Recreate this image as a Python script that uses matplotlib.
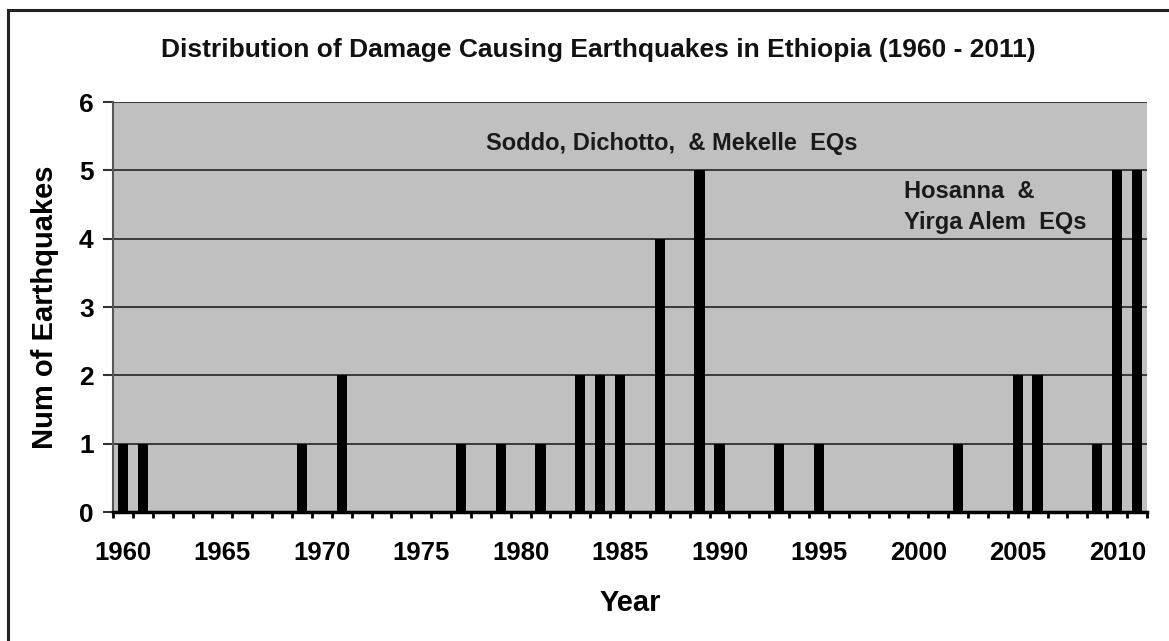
import numpy as np
import matplotlib.pyplot as plt
from matplotlib.lines import Line2D

plt.rcParams['font.family'] = ['Liberation Sans', 'DejaVu Sans']
plt.rcParams['font.weight'] = 'bold'

# damage causing earthquakes per year (years with no event are left out)
years = [1960, 1961, 1969, 1971, 1977, 1979, 1981, 1983, 1984, 1985, 1987,
         1989, 1990, 1993, 1995, 2002, 2005, 2006, 2009, 2010, 2011]
counts = [1, 1, 1, 2, 1, 1, 1, 2, 2, 2, 4,
          5, 1, 1, 1, 1, 2, 2, 1, 5, 5]
label_years = [1960, 1965, 1970, 1975, 1980, 1985, 1990, 1995, 2000, 2005, 2010]
y_ticks = [0, 1, 2, 3, 4, 5, 6]

fig = plt.figure(figsize=(11.69, 6.41), dpi=100)
ax = fig.add_axes([0.0967, 0.2012, 0.8845, 0.6396])
ax.set_facecolor('#c0c0c0')

ax.bar(years, counts, width=0.52, color='black', zorder=3)

ax.set_xlim(1959.5, 2011.5)
ax.set_ylim(0, 6)

# tick marks sit between the years, labels every five years
ax.set_xticks(np.arange(1959.5, 2012, 1))
ax.set_xticklabels([])
ax.tick_params(axis='x', which='major', length=4.5, width=2, direction='out', color='black')
ax.set_xticks(label_years, minor=True)
ax.set_xticklabels([str(y) for y in label_years], minor=True, fontsize=18.5, fontweight='bold')
ax.tick_params(axis='x', which='minor', length=0, pad=21)

ax.set_yticks(y_ticks)
ax.set_yticklabels([str(v) for v in y_ticks], fontsize=19, fontweight='bold')
ax.tick_params(axis='y', length=7, width=1.5, color='#333333', pad=7)

ax.yaxis.grid(True, color='#3a3a3a', linewidth=1.4, zorder=1)
ax.set_axisbelow(True)

for side in ['top', 'right']:
    ax.spines[side].set_visible(False)
ax.spines['left'].set_color('#555555')
ax.spines['left'].set_linewidth(1.5)
ax.spines['bottom'].set_color('black')
ax.spines['bottom'].set_linewidth(2.5)

ax.set_xlabel('Year', fontsize=21, fontweight='bold', va='center')
ax.xaxis.set_label_coords(0.5, -(603 - 512) / 410)
ax.set_ylabel('Num of Earthquakes', fontsize=21, fontweight='bold', va='center')
ax.yaxis.set_label_coords(-(113 - 45) / 1034, 0.5)

fig.text(598 / 1169, 1 - 50 / 641,
         'Distribution of Damage Causing Earthquakes in Ethiopia (1960 - 2011)',
         ha='center', va='center', fontsize=19, fontweight='bold', color='#111111')

ax.text(1987.6, 5.4, 'Soddo, Dichotto,  & Mekelle  EQs', ha='center', va='center',
        fontsize=17, fontweight='bold', color='#1a1a1a', zorder=4)
ax.text(1999.3, 4.47, 'Hosanna  &\nYirga Alem  EQs', ha='left', va='center',
        fontsize=17, fontweight='bold', color='#1a1a1a', linespacing=1.45, zorder=4)

# chart frame (top and left edges)
fig.add_artist(Line2D([8 / 1169, 1.0], [1 - 10 / 641, 1 - 10 / 641],
                      transform=fig.transFigure, color='#222222', linewidth=2.2))
fig.add_artist(Line2D([8 / 1169, 8 / 1169], [0.0, 1 - 10 / 641],
                      transform=fig.transFigure, color='#222222', linewidth=2.2))

fig.savefig('out.png', dpi=100)
